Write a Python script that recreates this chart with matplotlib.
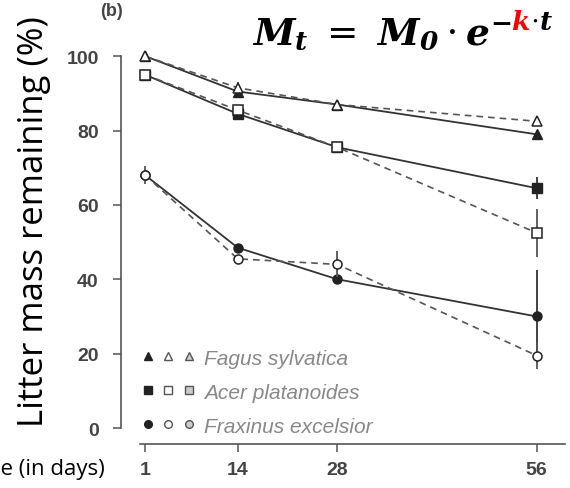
import matplotlib
matplotlib.use('Agg')
import matplotlib.pyplot as plt
from matplotlib.lines import Line2D
from matplotlib.legend_handler import HandlerTuple

# litter bag data
days = [1, 14, 28, 56]
y_ticks = [0, 20, 40, 60, 80, 100]

fagus_filled = [100, 90.5, 87, 79]
fagus_open = [100, 91.5, 87, 82.5]
acer_filled = [95, 84.5, 75.5, 64.5]
acer_open = [95, 85.5, 75.5, 52.5]
frax_filled = [68, 48.5, 40, 30]
frax_open = [68, 45.5, 44, 19.5]

fagus_filled_err = [0, 1, 0.5, 1]
fagus_open_err = [1, 1.5, 1, 1]
acer_filled_err = [0.5, 1, 1.5, 3]
acer_open_err = [0.5, 1, 1, 6.5]
frax_filled_err = [0, 1, 1, 12.5]
frax_open_err = [2.5, 1, 3.5, 3.5]

species = ['Fagus sylvatica', 'Acer platanoides', 'Fraxinus excelsior']
markers = ['^', 's', 'o']

plt.rcParams['mathtext.fontset'] = 'dejavuserif'

fig = plt.figure(figsize=(5.7, 4.89), dpi=100)
ax = fig.add_axes([0.2123, 0.09, 0.779, 0.828])

dark = '#222222'
series = [
    (fagus_filled, fagus_filled_err, fagus_open, fagus_open_err, '^'),
    (acer_filled, acer_filled_err, acer_open, acer_open_err, 's'),
    (frax_filled, frax_filled_err, frax_open, frax_open_err, 'o'),
]
for filled, ferr, opened, oerr, m in series:
    ax.errorbar(days, filled, yerr=ferr, color='#333333', lw=1.3, marker=m, ms=6.5,
                mfc=dark, mec=dark, elinewidth=1.3, capsize=0, clip_on=False, zorder=3)
    ax.errorbar(days, opened, yerr=oerr, color='#555555', lw=1.2, ls=(0, (4, 3)),
                marker=m, ms=6.5, mfc='white', mec=dark, mew=1.1,
                elinewidth=1.3, capsize=0, clip_on=False, zorder=4)

ax.set_xlim(-2.4, 60)
ax.set_ylim(-4.3, 104.6)
ax.set_xticks(days)
ax.set_yticks(y_ticks)
for side in ['top', 'right']:
    ax.spines[side].set_visible(False)
ax.spines['left'].set_bounds(0, 100)
ax.spines['bottom'].set_bounds(0.3, 60)
for side in ['left', 'bottom']:
    ax.spines[side].set_color('#555555')
    ax.spines[side].set_linewidth(1.2)
ax.tick_params(direction='out', length=6, width=1.1, color='#555555',
               labelsize=14, labelcolor='#444444')
ax.tick_params(axis='y', pad=10)
ax.tick_params(axis='x', pad=6)
for lab in ax.get_xticklabels() + ax.get_yticklabels():
    lab.set_fontweight('bold')
    lab.set_family('Liberation Sans')

# legend: filled, open, open (shaded) marker for each species
handles = []
for m in markers:
    h1 = Line2D([], [], ls='none', marker=m, ms=5.5, mfc=dark, mec=dark)
    h2 = Line2D([], [], ls='none', marker=m, ms=5.5, mfc='white', mec='#555555')
    h3 = Line2D([], [], ls='none', marker=m, ms=5.5, mfc='#cccccc', mec='#555555')
    handles.append((h1, h2, h3))
leg = ax.legend(handles, species, handler_map={tuple: HandlerTuple(ndivide=None, pad=0.4)},
                loc='lower left', bbox_to_anchor=(0.02, -0.01), frameon=False,
                handlelength=2.5, handletextpad=0.45, labelspacing=0.72,
                borderaxespad=0.2,
                prop={'family': 'Liberation Sans', 'style': 'italic', 'size': 15})
for t in leg.get_texts():
    t.set_color('#888888')

fig.text(100 / 570, 1 - 11 / 489, '(b)', fontsize=13, fontweight='bold',
         color='#444444', family='Liberation Sans', va='center')

# y and x labels (slide annotations)
fig.text(34 / 570, 1 - 222 / 489, 'Litter mass remaining (%)', rotation=90,
         ha='center', va='center', fontsize=25, family='Open Sans')
fig.text(105 / 570, 1 - 470 / 489, 'Time (in days)', ha='right', va='center',
         fontsize=16, family='Open Sans')

# decay formula, k in red
y_base = 1 - 45 / 489
t1 = fig.text(252 / 570, y_base, r'$\mathbfit{M_t}\ =\ \mathbfit{M_0}\cdot\mathbfit{e}$',
              fontsize=27, va='baseline')
y_sup = 1 - 30 / 489
t2 = fig.text(0, y_sup, r'$\mathbf{-}$', fontsize=19, va='baseline')
fig.canvas.draw()
r = fig.canvas.get_renderer()
bb = t1.get_window_extent(r)
t2.set_x(bb.x1 / fig.bbox.width)
fig.canvas.draw()
bb2 = t2.get_window_extent(r)
t3 = fig.text(bb2.x1 / fig.bbox.width, y_sup, r'$\mathbfit{k}$', fontsize=19,
              va='baseline', color='red')
fig.canvas.draw()
bb3 = t3.get_window_extent(r)
fig.text(bb3.x1 / fig.bbox.width, y_sup, r'$\cdot\mathbfit{t}$', fontsize=19,
         va='baseline')

fig.savefig('out.png', dpi=100)
